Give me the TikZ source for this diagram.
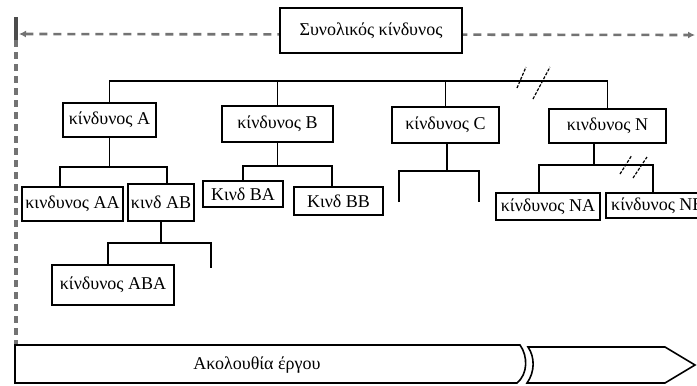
\documentclass[tikz,border=0pt]{standalone}
\usepackage{fontspec}
\setmainfont{Liberation Serif}
\usetikzlibrary{calc,arrows.meta}
\begin{document}
\begin{tikzpicture}[x=1pt,y=-1pt,
  box/.style={draw=black,line width=1.6pt,fill=white,inner sep=0pt,
    font=\fontsize{18}{20}\selectfont},
  conn/.style={line width=1.6pt,black},
  slash/.style={line width=1.2pt,black,dash pattern=on 3pt off 1.5pt},
  topdash/.style={line width=2.6pt,black!55,dash pattern=on 8pt off 6pt},
  leftdash/.style={line width=3.2pt,black!55,dash pattern=on 7pt off 5pt},
  bar/.style={draw=black,line width=1.6pt,fill=white},
  barlabel/.style={font=\fontsize{18}{20}\selectfont}
]
\useasboundingbox (0,0) rectangle (697,386);
\clip (0,0) rectangle (697,386);

% overall-risk dashed span
\coordinate (lt) at (19,34);
\coordinate (rt) at (695,35);
\draw[topdash,{Latex[length=7pt,width=7pt]}-{Latex[length=7pt,width=7pt]}] (lt) -- (rt);
\coordinate (lv1) at (16,17);
\coordinate (lv2) at (16,40);
\coordinate (lv3) at (16,345);
\draw[leftdash] (lv2) -- (lv3);
\draw[line width=3.4pt,black!70] (lv1) -- (lv2);

% nodes
\node[box,minimum width=182pt,minimum height=45pt] (top) at (371,30.5) {Συνολικός κίνδυνος};
\node[box,minimum width=93pt,minimum height=34pt] (A) at (109.5,120) {κίνδυνος A};
\node[box,minimum width=111pt,minimum height=36pt] (B) at (277.5,124) {κίνδυνος B};
\node[box,minimum width=107pt,minimum height=36pt] (C) at (445.5,125) {κίνδυνος C};
\node[box,minimum width=117pt,minimum height=34pt] (N) at (607.5,126) {κινδυνος N};
\node[box,minimum width=101pt,minimum height=34pt] (AA) at (72.5,204) {κινδυνος AA};
\node[box,minimum width=66pt,minimum height=37pt] (AB) at (161,202.5) {κινδ AB};
\node[box,minimum width=122pt,minimum height=40pt] (ABA) at (113,285) {κίνδυνος ABA};
\node[box,minimum width=80pt,minimum height=26pt] (BA) at (243,194) {Κινδ BA};
\node[box,minimum width=89pt,minimum height=28pt] (BB) at (338.5,201) {Κινδ BB};
\node[box,minimum width=104pt,minimum height=27pt] (NA) at (548,206.5) {κίνδυνος NA};
\node[box,minimum width=104pt,minimum height=25pt,anchor=west] (NB) at (605,205.5) {κίνδυνος NB};

% top-level bus
\coordinate (bus) at (0,81);
\draw[conn] (A.north) -- (A.north |- bus) -- (N.north |- bus) -- (N.north);
\draw[conn] (B.north) -- (B.north |- bus);
\draw[conn] (C.north) -- (C.north |- bus);
\coordinate (s1a) at (517,88); \coordinate (s1b) at (526,67);
\coordinate (s2a) at (533,99); \coordinate (s2b) at (550,67);
\draw[slash] (s1a) -- (s1b);
\draw[slash] (s2a) -- (s2b);

% children of A
\coordinate (aL) at (60,167); \coordinate (aR) at (167,167);
\draw[conn] (A.south) -- (A.south |- aL);
\draw[conn] (AA.north -| aL) -- (aL) -- (aR) -- (AB.north -| aR);

% children of AB
\coordinate (abL) at (108,243); \coordinate (abR) at (211,243);
\coordinate (abE) at (211,268);
\draw[conn] (AB.south) -- (AB.south |- abL);
\draw[conn] (ABA.north -| abL) -- (abL) -- (abR) -- (abE);

% children of B
\coordinate (bL) at (243,166); \coordinate (bR) at (332,166);
\draw[conn] (B.south) -- (B.south |- bL);
\draw[conn] (BA.north -| bL) -- (bL) -- (bR) -- (BB.north -| bR);

% children of C
\coordinate (cM) at (447,171);
\coordinate (cL) at (399,171); \coordinate (cR) at (479,171);
\coordinate (cLe) at (399,202); \coordinate (cRe) at (479,202);
\draw[conn] (C.south -| cM) -- (cM);
\draw[conn] (cLe) -- (cL) -- (cR) -- (cRe);

% children of N
\coordinate (nM) at (594,165);
\coordinate (nL) at (539,165); \coordinate (nR) at (653,165);
\draw[conn] (N.south -| nM) -- (nM);
\draw[conn] (NA.north -| nL) -- (nL) -- (nR) -- (NB.north -| nR);
\coordinate (s3a) at (620,174); \coordinate (s3b) at (632,155);
\coordinate (s4a) at (633,178); \coordinate (s4b) at (647,157);
\draw[slash] (s3a) -- (s3b);
\draw[slash] (s4a) -- (s4b);

% project sequence bar
\draw[bar] (15,345) -- (520,345) .. controls (528,356) and (528,374) .. (517,383) -- (15,383) -- cycle;
\draw[bar] (528,347) -- (665,347) -- (695,365) -- (665,383) -- (527,383) .. controls (535,372) and (535,357) .. (528,347) -- cycle;
\draw[line width=2.8pt] (15,345) -- (15,383);
\node[barlabel] (seq) at (257,365) {Ακολουθία έργου};
\end{tikzpicture}
\end{document}
